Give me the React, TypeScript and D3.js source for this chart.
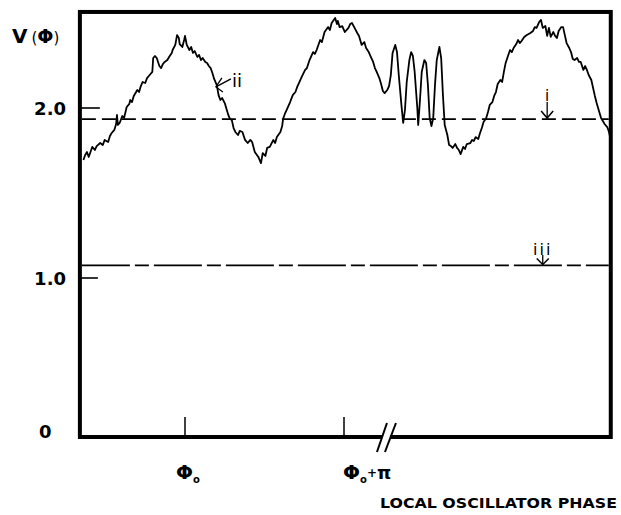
import React from 'react';
import * as d3 from 'd3';

// Local oscillator phase (degrees relative to Φo) and detected signal V(Φ)
const phase = [
  -115, -113, -111, -109, -105, -102, -100, -96, -93, -91, -87, -85, -83, -80, -78, -77, -76, -74, -71, -69,
  -66, -63, -62, -60, -58, -54, -52, -50, -48, -45, -43, -40, -37, -36, -34, -32, -29, -27, -25, -23,
  -20, -18, -15, -14, -11, -9, -7, -6, -3, -1, 0, 2, 5, 7, 9, 11, 14, 16, 18, 20,
  23, 25, 27, 29, 31, 33, 36, 38, 40, 42, 45, 48, 49, 51, 53, 55, 57, 60, 62, 65,
  68, 71, 74, 76, 79, 83, 86, 88, 91, 93, 96, 100, 102, 104, 108, 110, 111, 113, 115, 119,
  122, 125, 127, 129, 132, 136, 138, 141, 145, 147, 149, 153, 155, 158, 162, 164, 166, 170, 172, 173,
  175, 178, 181, 185, 187, 189, 192, 195, 197, 200, 203, 205, 208, 211, 213, 215, 217, 220, 222, 224,
  226, 229, 231, 233, 235, 238, 240, 242, 245, 247, 249, 251, 254, 256, 258, 260, 263, 264, 266, 268,
  271, 273, 275, 277, 279, 281, 283, 285, 288, 290, 292, 294, 297, 299, 301, 303, 306, 308, 310, 312,
  315, 317, 319, 323, 325, 327, 329, 332, 334, 336, 338, 341, 343, 345, 348, 350, 352, 354, 357, 359,
  361, 363, 366, 368, 370, 372, 375, 377, 379, 381, 384, 387, 391, 394, 396, 398, 401, 403, 405, 408,
  410, 412, 414, 417, 419, 421, 423, 426, 428, 430, 432, 435, 437, 439, 441, 444, 446, 448, 451, 453,
  455, 457, 460, 462, 464, 466, 469, 471, 473, 475, 478, 480, 482,
];
const signal = [
  1.694, 1.724, 1.741, 1.712, 1.771, 1.753, 1.776, 1.794, 1.782, 1.812, 1.8, 1.835, 1.853, 1.871, 1.906, 1.959, 1.9, 1.912, 1.953, 1.941,
  2.006, 2.024, 2.047, 2.035, 2.071, 2.106, 2.094, 2.129, 2.153, 2.147, 2.176, 2.194, 2.212, 2.294, 2.306, 2.294, 2.247, 2.235, 2.259, 2.271,
  2.282, 2.3, 2.324, 2.341, 2.371, 2.429, 2.412, 2.376, 2.359, 2.4, 2.424, 2.371, 2.341, 2.359, 2.324, 2.335, 2.3, 2.312, 2.282, 2.294,
  2.271, 2.265, 2.247, 2.235, 2.206, 2.171, 2.135, 2.076, 2.047, 2.059, 2.029, 1.976, 1.959, 1.935, 1.929, 1.882, 1.859, 1.841, 1.865, 1.859,
  1.812, 1.794, 1.812, 1.8, 1.741, 1.712, 1.676, 1.735, 1.718, 1.765, 1.771, 1.812, 1.794, 1.829, 1.859, 1.894, 1.935, 1.965, 1.988, 2.035,
  2.076, 2.094, 2.124, 2.147, 2.182, 2.224, 2.235, 2.282, 2.329, 2.318, 2.341, 2.4, 2.388, 2.447, 2.476, 2.459, 2.5, 2.529, 2.494, 2.512,
  2.476, 2.482, 2.447, 2.471, 2.494, 2.5, 2.471, 2.441, 2.424, 2.371, 2.388, 2.353, 2.329, 2.294, 2.271, 2.235, 2.212, 2.176, 2.141, 2.1,
  2.088, 2.106, 2.129, 2.194, 2.324, 2.371, 2.329, 2.194, 2.018, 1.912, 1.988, 2.153, 2.282, 2.329, 2.306, 2.212, 2.0, 1.9, 2.047, 2.212,
  2.282, 2.265, 2.135, 1.941, 1.894, 1.941, 2.135, 2.282, 2.359, 2.294, 2.076, 1.9, 1.841, 1.782, 1.776, 1.765, 1.788, 1.765, 1.753, 1.729,
  1.771, 1.759, 1.788, 1.794, 1.812, 1.806, 1.829, 1.818, 1.853, 1.882, 1.918, 1.941, 1.976, 2.018, 2.035, 2.071, 2.094, 2.141, 2.165, 2.153,
  2.212, 2.265, 2.312, 2.341, 2.329, 2.353, 2.376, 2.4, 2.382, 2.394, 2.418, 2.429, 2.441, 2.453, 2.476, 2.471, 2.506, 2.518, 2.471, 2.482,
  2.424, 2.471, 2.418, 2.447, 2.424, 2.412, 2.453, 2.476, 2.476, 2.429, 2.382, 2.353, 2.329, 2.288, 2.282, 2.294, 2.271, 2.271, 2.224, 2.247,
  2.224, 2.194, 2.165, 2.118, 2.071, 2.029, 1.976, 1.941, 1.924, 1.906, 1.888, 1.859, 1.812,
];

const yTickValues = [2.0, 1.0];
const yTickLabels = ['2.0', '1.0'];
const zeroLabel = '0';
const xTickPhases = [0, 180];
const levelI = 1.935;
const levelIII = 1.074;
const annotationIIPhase = 35;
const annotationIIValue = 2.124;
const annotationIPhase = 410;
const annotationIIIPhase = 405;
const breakPhase = 227.5;
const PHASE_MIN = -119;
const PHASE_MAX = 482;
const V_TOP = 2.565;

const FONT = '"DejaVu Sans", sans-serif';

export default function App() {
  const x = d3.scaleLinear().domain([0, 180]).range([185, 344]);
  const y = d3.scaleLinear().domain([0, 1, 2]).range([437, 278, 108]);

  const xL = x(PHASE_MIN);
  const xR = x(PHASE_MAX);
  const yT = y(V_TOP);
  const yB = y(0);

  const pts: [number, number][] = phase.map((p, i) => [p, signal[i]]);
  const line = d3
    .line<[number, number]>()
    .x((d) => x(d[0]))
    .y((d) => y(d[1]));

  const bx = x(breakPhase);
  const yI = y(levelI);
  const yIII = y(levelIII);

  const iiX = x(annotationIIPhase);
  const iiY = y(annotationIIValue);
  const iX = x(annotationIPhase);
  const iiiX = x(annotationIIIPhase);

  return (
    <svg
      width={621}
      height={515}
      style={{ position: 'absolute', left: 0, top: 0, background: '#fff' }}
      fontFamily={FONT}
    >
      <rect x={0} y={0} width={621} height={515} fill="#fff" />

      {/* reference levels */}
      <line x1={xL + 2} x2={xR - 2} y1={yI} y2={yI} stroke="#000" strokeWidth={1.7} strokeDasharray="14,6" />
      <line x1={xL + 2} x2={xR - 2} y1={yIII} y2={yIII} stroke="#000" strokeWidth={1.7} strokeDasharray="48,5,14,5" />

      {/* trace */}
      <path d={line(pts) || ''} fill="none" stroke="#000" strokeWidth={1.8} strokeLinejoin="round" />

      {/* frame */}
      <rect x={xL} y={yT} width={xR - xL} height={yB - yT} fill="none" stroke="#000" strokeWidth={4} />

      {/* y ticks */}
      {yTickValues.map((v, i) => (
        <g key={v}>
          <line x1={xL} x2={xL + (i === 0 ? 20 : 18)} y1={y(v)} y2={y(v)} stroke="#000" strokeWidth={1.6} />
          <text x={66} y={y(v) + 7} textAnchor="end" fontSize={18} fontWeight="bold" fill="#000">
            {yTickLabels[i]}
          </text>
        </g>
      ))}
      <text x={39} y={yB + 1} fontSize={18} fontWeight="bold" fill="#000">
        {zeroLabel}
      </text>

      {/* y title */}
      <text x={12} y={43} fill="#000">
        <tspan fontSize={20} fontWeight="bold">V</tspan>
        <tspan fontSize={15} dx={4}>(</tspan>
        <tspan fontSize={19} fontWeight="bold">Φ</tspan>
        <tspan fontSize={15}>)</tspan>
      </text>

      {/* x ticks */}
      {xTickPhases.map((p) => (
        <line key={p} x1={x(p)} x2={x(p)} y1={yB - 1} y2={yB - 20} stroke="#000" strokeWidth={1.5} />
      ))}

      {/* axis break */}
      <polygon
        points={`${bx - 4},${yB - 5} ${bx + 4},${yB - 5} ${bx + 4},${yB + 5} ${bx - 4},${yB + 5}`}
        fill="#fff"
      />
      <line x1={bx - 9} y1={yB + 15} x2={bx + 1} y2={yB - 14} stroke="#000" strokeWidth={2} />
      <line x1={bx - 1} y1={yB + 15} x2={bx + 10} y2={yB - 14} stroke="#000" strokeWidth={2} />

      {/* x tick labels */}
      <text x={x(0) - 9} y={479} fill="#000" fontWeight="bold">
        <tspan fontSize={20}>Φ</tspan>
        <tspan fontSize={10} dx={0} dy={4}>o</tspan>
      </text>
      <text x={x(180) - 1} y={479} fill="#000" fontWeight="bold">
        <tspan fontSize={20}>Φ</tspan>
        <tspan fontSize={10} dx={0} dy={4}>o</tspan>
        <tspan fontSize={12} dy={-6}>+</tspan>
        <tspan fontSize={18} dy={2}>π</tspan>
      </text>

      {/* x title */}
      <text x={380} y={508} fontSize={14.5} fontWeight="bold" fill="#000" textLength={237} lengthAdjust="spacingAndGlyphs">
        LOCAL OSCILLATOR PHASE
      </text>

      {/* annotation ii */}
      <line x1={iiX} y1={iiY} x2={iiX + 15} y2={iiY - 8} stroke="#000" strokeWidth={1.3} />
      <polyline
        points={`${iiX + 6},${iiY - 9} ${iiX},${iiY} ${iiX + 7},${iiY + 5}`}
        fill="none"
        stroke="#000"
        strokeWidth={1.3}
      />
      <text x={iiX + 16} y={iiY} fontSize={18} fill="#000">ii</text>

      {/* annotation i */}
      <text x={iX} y={101} textAnchor="middle" fontSize={15} fill="#000">i</text>
      <line x1={iX} y1={102} x2={iX} y2={yI - 1} stroke="#000" strokeWidth={1.3} />
      <polyline
        points={`${iX - 6},${yI - 8} ${iX},${yI - 1} ${iX + 6},${yI - 8}`}
        fill="none"
        stroke="#000"
        strokeWidth={1.5}
      />

      {/* annotation iii */}
      <text x={iiiX} y={255} textAnchor="middle" fontSize={16} letterSpacing={2} fill="#000">iii</text>
      <line x1={iiiX} y1={255} x2={iiiX} y2={yIII - 1} stroke="#000" strokeWidth={1.3} />
      <polyline
        points={`${iiiX - 6},${yIII - 7} ${iiiX},${yIII - 1} ${iiiX + 6},${yIII - 7}`}
        fill="none"
        stroke="#000"
        strokeWidth={1.5}
      />
    </svg>
  );
}
